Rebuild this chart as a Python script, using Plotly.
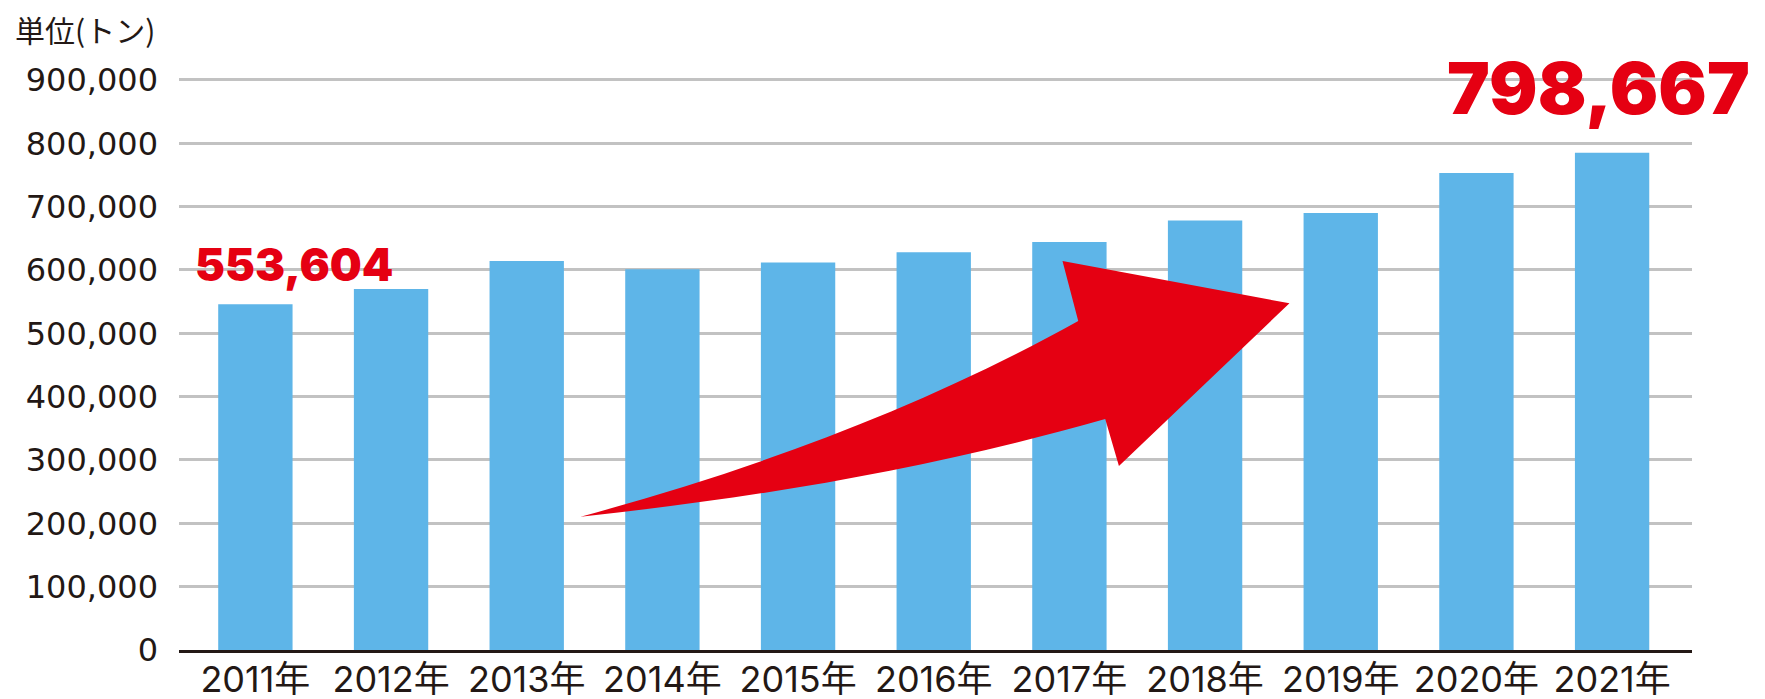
import plotly.graph_objects as go

# ---- data ----
years = ["2011年", "2012年", "2013年", "2014年", "2015年", "2016年",
         "2017年", "2018年", "2019年", "2020年", "2021年"]
tonnage = [546000, 570000, 614000, 601000, 612000, 628000,
           644000, 678000, 690000, 753000, 785000]
first_label_value = 553604
last_label_value = 798667
y_ticks = [0, 100000, 200000, 300000, 400000, 500000, 600000, 700000, 800000, 900000]
unit_label = "単位(トン)"

BAR = "#5EB5E8"
RED = "#E50012"
INK = "#231815"

x_pos = list(range(len(years)))

fig = go.Figure()
fig.add_trace(go.Bar(
    x=x_pos, y=tonnage, width=0.548,
    marker=dict(color=BAR, line=dict(width=0)),
    hoverinfo="skip",
))

# decorative curved arrow (in data coordinates)
arrow_path = (
    "M 2.397,210500 C 3.6,280000 4.9,380000 6.065,519500 "
    "L 5.949,614200 L 7.622,547400 L 6.365,290500 L 6.264,364700 "
    "C 4.964,285400 3.697,240400 2.397,210500 Z"
)
fig.add_shape(type="path", path=arrow_path, xref="x", yref="y",
              fillcolor=RED, line=dict(width=0), layer="above")

fig.add_annotation(x=0.281, y=607900, xref="x", yref="y",
                   text=f"{first_label_value:,}", showarrow=False,
                   xanchor="center", yanchor="middle",
                   font=dict(family="Inter", size=45, color=RED, weight=900))
fig.add_annotation(x=9.90, y=888200, xref="x", yref="y",
                   text=f"{last_label_value:,}", showarrow=False,
                   xanchor="center", yanchor="middle",
                   font=dict(family="Inter", size=72, color=RED, weight=900))
fig.add_annotation(x=(13 - 179) / 1513, y=(650 - 29) / 583, xref="paper", yref="paper",
                   text=unit_label, showarrow=False,
                   xanchor="left", yanchor="middle",
                   font=dict(family="Noto Sans CJK JP", size=30, color=INK))

# page body has an 8px margin, so the figure is sized to fit the window
fig.update_layout(
    width=1757, height=691,
    margin=dict(l=171, r=73, t=59, b=49, autoexpand=False),
    paper_bgcolor="white", plot_bgcolor="white",
    showlegend=False,
    xaxis=dict(
        range=[-0.563, 10.589], automargin=False,
        tickmode="array", tickvals=x_pos, ticktext=years,
        showgrid=False, zeroline=False,
        showline=True, linecolor=INK, linewidth=3,
        ticks="", ticklabelstandoff=-4,
        tickfont=dict(family="Inter, Noto Sans CJK JP", size=36, color=INK),
    ),
    yaxis=dict(
        range=[0, 920500], automargin=False,
        tickmode="array", tickvals=y_ticks, tickformat=",d",
        showgrid=True, gridcolor="#C2C2C2", gridwidth=2.5,
        zeroline=False, showline=False,
        ticks="", ticklabelstandoff=20,
        tickfont=dict(family="DejaVu Sans", size=32, color=INK),
    ),
)

fig.write_html("out.html")
